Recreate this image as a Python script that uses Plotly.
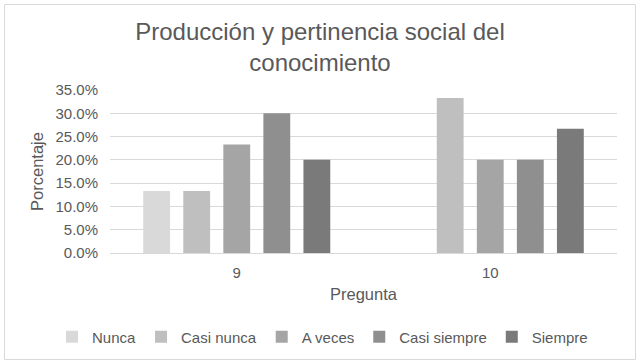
import plotly.graph_objects as go

categories = ["9", "10"]
series_names = ["Nunca", "Casi nunca", "A veces", "Casi siempre", "Siempre"]
nunca = [0.133, 0.0]
casi_nunca = [0.133, 0.333]
a_veces = [0.233, 0.200]
casi_siempre = [0.300, 0.200]
siempre = [0.200, 0.267]
colors = ["#d9d9d9", "#bfbfbf", "#a5a5a5", "#8f8f8f", "#7a7a7a"]

series_values = [nunca, casi_nunca, a_veces, casi_siempre, siempre]

fig = go.Figure()
for name, vals, col in zip(series_names, series_values, colors):
    fig.add_trace(go.Bar(x=categories, y=vals, name=name,
                         marker=dict(color=col, line=dict(width=0))))

font_family = "Liberation Sans, Arial, sans-serif"
txt = "#595959"

L, R, T, B = 110, 23, 90, 111
W, H = 640, 364
ph = H - T - B
pw = W - L - R

fig.update_layout(
    width=W, height=H,
    margin=dict(l=L, r=R, t=T, b=B, autoexpand=False),
    paper_bgcolor="white", plot_bgcolor="white",
    font=dict(family=font_family, color=txt, size=15),
    title=dict(text="Producción y pertinencia social del<br>conocimiento",
               x=0.5, xanchor="center", xref="container",
               y=1 - 40 / H, yanchor="top", yref="container",
               font=dict(size=24, color=txt, family=font_family)),
    barmode="group", bargap=0.21, bargroupgap=0.33,
    showlegend=True,
    legend=dict(orientation="h", xref="paper", x=(52 - L) / pw, xanchor="left",
                yref="paper", y=(H - B - 337) / ph, yanchor="middle",
                font=dict(size=15, color=txt), itemwidth=30,
                traceorder="normal"),
    xaxis=dict(title=dict(text="Pregunta", font=dict(size=16.5, color=txt), standoff=8),
               showline=True, linecolor="#d9d9d9", linewidth=1,
               ticks="", tickfont=dict(size=15, color=txt), showgrid=False,
               ticklabelstandoff=6),
    yaxis=dict(title=dict(text="Porcentaje", font=dict(size=16.5, color=txt), standoff=7),
               range=[0, 0.35], dtick=0.05, tickformat=".1%",
               showgrid=True, gridcolor="#d9d9d9", gridwidth=1,
               zeroline=False, ticks="", tickfont=dict(size=15, color=txt),
               ticklabelstandoff=11),
)

fig.add_shape(type="rect", xref="paper", yref="paper",
              x0=(4.5 - L) / pw, x1=(635.5 - L) / pw,
              y0=(H - B - 359.5) / ph, y1=(H - B - 4.5) / ph,
              line=dict(color="#d9d9d9", width=1), fillcolor="rgba(0,0,0,0)",
              layer="above")

fig.write_html("out.html", config={"displayModeBar": False},
               post_script="document.body.style.margin='0';document.body.style.padding='0';")
